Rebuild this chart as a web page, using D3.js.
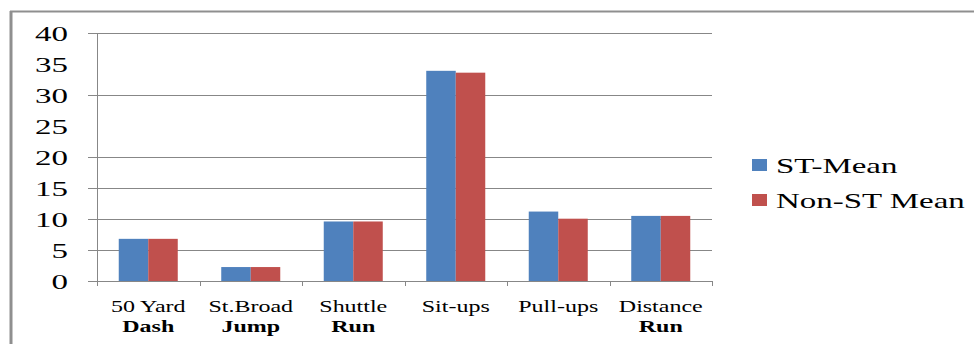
<!DOCTYPE html>
<html>
<head>
<meta charset="utf-8">
<script src="https://cdn.jsdelivr.net/npm/d3@7"></script>
<style>
  html, body { margin: 0; padding: 0; background: #fff; }
  svg { display: block; }
</style>
</head>
<body>
<svg id="chart" width="974" height="347"></svg>
<script>
// Fitness test means by group
const categories = [["50 Yard", "Dash"], ["St.Broad", "Jump"], ["Shuttle", "Run"], ["Sit-ups"], ["Pull-ups"], ["Distance", "Run"]];
const seriesNames = ["ST-Mean", "Non-ST Mean"];
const stMean = [6.8, 2.25, 9.6, 33.9, 11.2, 10.5];
const nonStMean = [6.8, 2.25, 9.6, 33.6, 10.05, 10.5];
const yTickLabels = [0, 5, 10, 15, 20, 25, 30, 35, 40];
const gridValues = [0, 5, 10, 15, 20, 30, 40];
const colors = ["#4F81BD", "#C0504D"];

const serif = '"Liberation Serif"';
const svg = d3.select("#chart");
const plot = { left: 97, right: 712, top: 33, bottom: 281 };
const gridColor = "#878787";

// outer frame (top and left edges visible)
svg.append("line").attr("x1", 10).attr("x2", 974).attr("y1", 11.5).attr("y2", 11.5)
  .attr("stroke", "#8f8f8f").attr("stroke-width", 2);
svg.append("line").attr("x1", 11).attr("x2", 11).attr("y1", 11).attr("y2", 344)
  .attr("stroke", "#8f8f8f").attr("stroke-width", 3);

const keys = categories.map(c => c.join(" "));
const x0 = d3.scaleBand().domain(keys).range([plot.left, plot.right]).paddingInner(0).paddingOuter(0);
const x1 = d3.scaleBand().domain(seriesNames).range([0, x0.bandwidth()]).paddingInner(0).paddingOuter(0.737);
const y = d3.scaleLinear().domain([0, 40]).range([plot.bottom, plot.top]);

// horizontal gridlines
svg.append("g").selectAll("line").data(gridValues).join("line")
  .attr("x1", 88).attr("x2", plot.right)
  .attr("y1", d => Math.round(y(d)) + 0.5).attr("y2", d => Math.round(y(d)) + 0.5)
  .attr("stroke", gridColor).attr("stroke-width", 1);

// y-axis labels, stretched horizontally
svg.append("g").selectAll("text").data(yTickLabels).join("text")
  .attr("transform", d => `translate(68,${y(d) + 7.5}) scale(1.65,1)`)
  .attr("text-anchor", "end")
  .style("font-family", serif)
  .style("font-size", "20px")
  .text(d => d);

// bars
const data = [stMean, nonStMean];
const groups = svg.append("g").selectAll("g").data(keys).join("g")
  .attr("transform", d => `translate(${x0(d)},0)`);
groups.selectAll("rect")
  .data((k, i) => seriesNames.map((s, j) => ({ s, v: data[j][i] })))
  .join("rect")
  .attr("x", d => x1(d.s))
  .attr("width", x1.bandwidth())
  .attr("y", d => y(d.v))
  .attr("height", d => y(0) - y(d.v))
  .attr("fill", (d, j) => colors[j]);

// axis lines and category ticks
svg.append("line").attr("x1", plot.left + 0.5).attr("x2", plot.left + 0.5)
  .attr("y1", plot.top).attr("y2", plot.bottom + 5)
  .attr("stroke", gridColor).attr("stroke-width", 1);
svg.append("line").attr("x1", 88).attr("x2", plot.right)
  .attr("y1", Math.round(y(0)) + 0.5).attr("y2", Math.round(y(0)) + 0.5)
  .attr("stroke", gridColor).attr("stroke-width", 1);
const tickXs = keys.map(k => x0(k)).concat([plot.right]);
svg.append("g").selectAll("line").data(tickXs).join("line")
  .attr("x1", d => Math.round(d) + 0.5).attr("x2", d => Math.round(d) + 0.5)
  .attr("y1", plot.bottom).attr("y2", plot.bottom + 5)
  .attr("stroke", gridColor).attr("stroke-width", 1);

// category labels
const labels = svg.append("g").selectAll("g").data(categories).join("g")
  .attr("transform", (d, i) => `translate(${x0(keys[i]) + x0.bandwidth() / 2},0)`);
labels.selectAll("text").data(d => d).join("text")
  .attr("transform", (d, i) => `translate(0,${312 + i * 19.5}) scale(1.5,1)`)
  .attr("text-anchor", "middle")
  .style("font-family", serif)
  .style("font-size", "16px")
  .style("font-weight", (d, i) => i === 0 ? "normal" : "bold")
  .text(d => d);

// legend
const legend = svg.append("g").selectAll("g").data(seriesNames).join("g")
  .attr("transform", (d, i) => `translate(752,${159 + i * 35})`);
legend.append("rect").attr("width", 15).attr("height", 12).attr("fill", (d, i) => colors[i]);
legend.append("text")
  .attr("transform", "translate(24,14) scale(1.57,1)")
  .style("font-family", serif)
  .style("font-size", "21px")
  .text(d => d);
</script>
</body>
</html>
